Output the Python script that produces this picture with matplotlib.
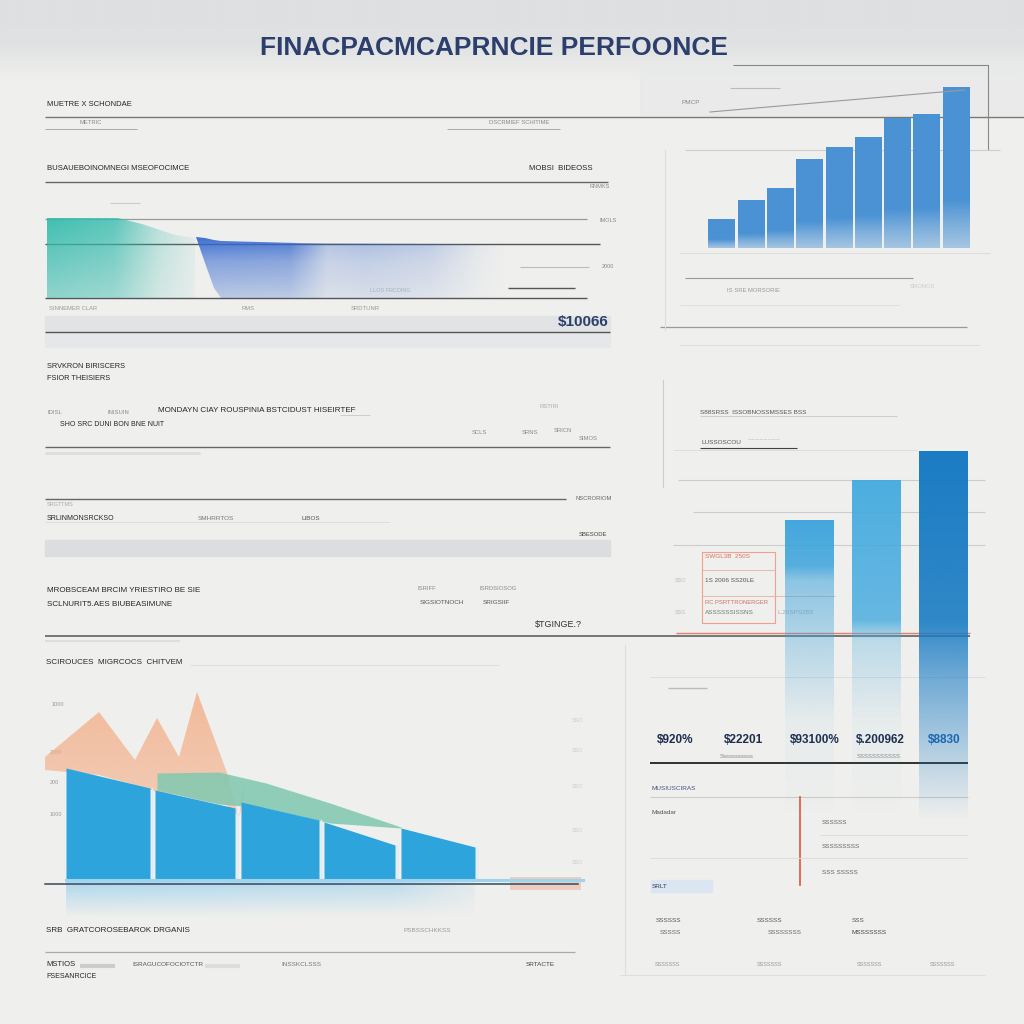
import numpy as np
import matplotlib
matplotlib.use('Agg')
import matplotlib.pyplot as plt
from matplotlib.colors import to_rgb

plt.rcParams['font.family'] = ['Liberation Sans Narrow', 'Liberation Sans', 'DejaVu Sans']

# ---- values ----
# top right: nine rising bars
growth_vals = [29, 48, 60, 89, 101, 111, 130, 134, 161]

# top left area panel (teal shoulder + blue wedge)
teal_x = [0, 71, 95, 128, 148]
teal_top = [80, 80, 74, 63, 60]
wedge_x = [149, 158, 167, 174, 251, 389, 461]
wedge_top = [61, 60, 58, 57, 55, 54, 53]
wedge_low = [61, 35, 10, 0, 0, 0, 0]

# right middle: three tall fading bars
tall_vals = [300, 340, 369]
tall_colors = ['#3ba3dc', '#43aadf', '#1a7cc4']
value_row = ['$920%', '$22201', '$93100%', '$.200962', '$8830']

# bottom left: stepped blue flow, green layer and orange peaks
flow_segments = [
    ([23, 107], [112, 92]),
    ([112, 192], [90, 72]),
    ([198, 276], [78, 60]),
    ([281, 352], [58, 35]),
    ([358, 432], [52, 33]),
]
green_x = [114, 176, 223, 287, 358]
green_top = [107, 108, 97, 77, 53]
green_low = [90, 76, 72, 57, 52]
orange_x = [2, 56, 92, 114, 136, 154, 183, 196, 201]
orange_top = [123, 168, 120, 162, 123, 188, 110, 63, 97]
orange_low = [110, 105, 95, 88, 85, 80, 75, 63, 80]

NAVY = '#2c3f6c'
INK = '#262626'


def px_axes(x0, y0, x1, y1):
    a = fig.add_axes([x0 / 1024, 1 - y1 / 1024, (x1 - x0) / 1024, (y1 - y0) / 1024])
    a.set_axis_off()
    a.patch.set_alpha(0)
    return a


def shade(ax, clip, extent, color, xstops, ystops, z=2, transform=None):
    # gradient image clipped to a patch / path
    nx, ny = 200, 200
    ax_ = np.interp(np.linspace(0, 1, nx), xstops[0], xstops[1])
    ay_ = np.interp(np.linspace(0, 1, ny), ystops[0], ystops[1])
    img = np.zeros((ny, nx, 4))
    img[..., :3] = to_rgb(color)
    img[..., 3] = np.outer(ay_, ax_)
    im = ax.imshow(img, extent=extent, origin='lower', aspect='auto',
                   interpolation='bilinear', zorder=z)
    if transform is None:
        im.set_clip_path(clip)
    else:
        im.set_clip_path(clip, transform=transform)
    return im


fig = plt.figure(figsize=(10.24, 10.24), dpi=100)
fig.patch.set_facecolor('#efefed')

bg = fig.add_axes([0, 0, 1, 1])
bg.set_xlim(0, 1024)
bg.set_ylim(1024, 0)
bg.set_axis_off()

# soft grey top band
band = np.zeros((100, 2, 4))
band[..., :3] = to_rgb('#dfe0e2')
band[..., 3] = np.interp(np.linspace(0, 1, 100), [0, 0.55, 1], [1, 0.9, 0])[:, None]
bg.imshow(band, extent=[0, 1024, 80, 0], aspect='auto', zorder=0, interpolation='bilinear')
bg.axhspan(62, 115, xmin=640 / 1024, color='#e8e9ea', alpha=0.7, zorder=0)
bg.set_xlim(0, 1024)
bg.set_ylim(1024, 0)

bg.text(494, 48, 'FINACPACMCAPRNCIE PERFOONCE', ha='center', va='center',
        fontsize=19, fontweight='heavy', color=NAVY, family=['Liberation Sans', 'DejaVu Sans'])


def t(x, y, s, size=5.5, color=INK, weight='normal', ha='left', alpha=1.0):
    bg.text(x, y, s, fontsize=size, color=color, fontweight=weight, ha=ha,
            va='center', alpha=alpha)


def h(y, x0, x1, color='#6a6a6a', lw=0.9, alpha=1.0):
    bg.plot([x0, x1], [y, y], color=color, lw=lw, alpha=alpha, solid_capstyle='butt')


# ---- left column texts & rules ----
t(47, 104, 'MUETRE X SCHONDAE', 5.5)
h(117, 45, 1024, '#777777', 1.0)
t(80, 123, 'METRIC', 4.2, '#888888')
h(129, 45, 137, '#aaaaaa', 0.7)
t(489, 123, 'DSCRMIEF SCHITIME', 4.2, '#888888')
h(129, 447, 560, '#aaaaaa', 0.7)

t(47, 169, 'BUSAUEBOINOMNEGI MSEOFOCIMCE', 5.6)
t(529, 169, 'MOBSI  BIDEOSS', 5.6)
h(182, 45, 608, '#666666', 1.0)
t(589, 187, 'RNMKS', 4, '#888888')
h(203, 110, 140, '#cccccc', 0.8)
h(219, 45, 587, '#999999', 0.9)
t(600, 221, 'IMOLS', 4, '#888888')
h(244, 45, 600, '#555555', 1.0)
t(602, 267, '2000', 4, '#888888')
h(267, 520, 589, '#bbbbbb', 0.8)
h(288, 508, 575, '#555555', 1.0)
t(370, 291, 'LLOS FRCDRIG', 4, '#bbbbbb')
h(298, 45, 587, '#555555', 1.0)
t(49, 309, 'SINNEMER CLAR', 4.2, '#999999')
t(242, 309, 'RMS', 4.2, '#999999')
t(351, 309, 'SRDTUNR', 4.2, '#999999')
bg.axhspan(316, 331, xmin=45 / 1024, xmax=610 / 1024, color='#e2e3e5', zorder=0)
bg.axhspan(333, 347, xmin=45 / 1024, xmax=610 / 1024, color='#e6e7e8', zorder=0)
h(332, 45, 610, '#555555', 1.0)
t(609, 322, '$10066', 11, NAVY, 'bold', ha='right')

t(47, 367, 'SRVKRON BIRISCERS', 5.3)
t(47, 379, 'FSIOR THEISIERS', 5.3)
t(47, 412, 'IDISL', 4.2, '#888888')
t(108, 412, 'INISUIN', 4.2, '#888888')
t(158, 410, 'MONDAYN CIAY ROUSPINIA BSTCIDUST HISEIRTEF', 5.8)
h(415, 340, 370, '#cccccc', 0.7)
t(60, 425, 'SHO SRC DUNI BON BNE NUIT', 5)
t(539, 407, 'RSTIRI', 4.2, '#aaaaaa')
t(472, 432, 'SCLS', 4.2, '#888888')
t(522, 433, 'SRNS', 4.2, '#888888')
t(554, 431, 'SRICN', 4.2, '#888888')
t(579, 438, 'SIMOS', 4.2, '#888888')
h(447, 45, 610, '#666666', 1.0)
h(453, 45, 200, '#dddddd', 2.0)
h(499, 45, 566, '#666666', 1.0)
t(575, 498, 'NSCRORIOM', 4.2, '#666666')
t(47, 504, 'SRGTTMS', 4, '#aaaaaa')
t(47, 518, 'SRLINMONSRCKSO', 5)
t(198, 519, 'SMHRRTOS', 4.6, '#777777')
t(302, 518, 'LIBOS', 4.6, '#555555')
h(522, 45, 390, '#dddddd', 0.7)
t(579, 534, 'SBESODE', 4.2, '#444444')
bg.axhspan(540, 556, xmin=45 / 1024, xmax=610 / 1024, color='#dcdddf', zorder=0)

t(47, 591, 'MROBSCEAM BRCIM YRIESTIRO BE SIE', 5.8)
t(47, 604, 'SCLNURIT5.AES BIUBEASIMUNE', 5.8)
t(418, 588, 'ISRIFF', 4.2, '#888888')
t(480, 589, 'ISRDSIOSOG', 4.2, '#888888')
t(420, 602, 'SIGSIOTNOCH', 4.6, '#555555')
t(483, 602, 'SRIGSIIF', 4.6, '#555555')
t(535, 624, '$TGINGE.?', 6.5, '#333333')
h(636, 45, 970, '#555555', 1.1)
h(641, 45, 180, '#dddddd', 1.5)

t(46, 662, 'SCIROUCES  MIGRCOCS  CHITVEM', 5.8)
h(665, 190, 499, '#dddddd', 0.7)
t(52, 705, '1000', 4, '#999999')
t(50, 752, '2000', 4, '#999999')
t(50, 783, '200', 4, '#999999')
t(50, 815, '1000', 4, '#999999')
for yy in [720, 750, 787, 830, 863]:
    t(572, yy, 'SSO', 4, '#cccccc')
t(46, 930, 'SRB  GRATCOROSEBAROK DRGANIS', 5.8)
t(404, 931, 'PSBSSCHKKSS', 4.6, '#999999')
h(952, 45, 575, '#aaaaaa', 0.9)
t(46, 964, 'MSTIOS', 5.5)
t(46, 977, 'FSESANRCICE', 5)
t(132, 964, 'ISRAGUCOFOCIOTCTR', 4.6, '#555555')
t(281, 964, 'INSSKCLSSS', 4.6, '#777777')
t(526, 964, 'SRTACTE', 4.6, '#444444')
h(966, 80, 115, '#cccccc', 3)
h(966, 205, 240, '#dddddd', 3)

# ---- right column ----
bg.plot([988, 988], [65, 150], color='#888888', lw=0.8)
h(65, 733, 988, '#888888', 0.8)
h(88, 730, 780, '#bbbbbb', 0.8)
t(682, 102, 'PMCP', 4.6, '#888888')
h(150, 685, 1000, '#cccccc', 0.8)
h(253, 680, 990, '#dddddd', 0.8)
h(278, 685, 913, '#999999', 0.8)
t(727, 290, 'IS SRE MORSORIE', 4.2, '#999999')
t(910, 287, 'SRONOS', 4.2, '#cccccc')
h(305, 680, 900, '#e0e0e0', 0.8)
h(327, 660, 967, '#999999', 0.9)
h(345, 680, 980, '#dddddd', 0.7)

t(700, 412, 'S88SRSS  ISSOBNOSSMSSES BSS', 4.6, '#555555')
h(416, 700, 897, '#cccccc', 0.7)
t(702, 443, 'LUSSOSCOU', 4.6, '#555555')
t(748, 441, '~~~~~~~~', 5, '#7aa4c8', alpha=0.6)
h(448, 700, 797, '#444444', 0.8)
h(450, 673, 917, '#dddddd', 0.7)
h(480, 678, 985, '#cccccc', 0.8)
h(512, 693, 985, '#cccccc', 0.8)
h(545, 673, 985, '#cccccc', 0.8)
bg.plot([663, 663], [380, 487], color='#cccccc', lw=0.8)
bg.plot([702, 775, 775, 702, 702], [552, 552, 623, 623, 552], color='#f0a090', lw=0.8)
h(570, 702, 775, '#e8b0a0', 0.6)
h(596, 702, 835, '#e8b0a0', 0.6)
t(705, 557, 'SWGL3B  250S', 4.6, '#e0705a')
t(705, 580, '1S 2006 SS20LE', 4.6, '#555555')
t(705, 602, 'RC PSRTTRONERGER', 4.2, '#d07060')
t(705, 613, 'ASSSSSSISSNS', 4.6, '#777777')
t(777, 612, 'L.20SPS28S', 4.6, '#aaaaaa')
t(675, 580, 'SSO', 4, '#bbbbbb')
t(675, 612, 'SSG', 4, '#bbbbbb')
h(633, 676, 970, '#e08070', 1.0)
h(677, 650, 985, '#dddddd', 0.7)
h(688, 668, 707, '#bbbbbb', 1.0)

for xx, s in zip([657, 724, 790, 856, 928], value_row):
    t(xx, 740, s, 8.5, '#1f2d4d' if s != value_row[-1] else '#1a5ca8', 'bold')
t(720, 757, 'Sssssssssss', 4.2, '#888888')
t(857, 757, 'SSSSSSSSSSS', 4.2, '#888888')
h(763, 650, 968, '#222222', 1.3)
t(652, 788, 'MUSIUSCIRAS', 4.6, '#445577')
h(797, 650, 968, '#cccccc', 0.8)
t(652, 812, 'Madadar', 4.6, '#555555')
bg.plot([800, 800], [797, 885], color='#e36b55', lw=1.4)
t(822, 823, 'SSSSSS', 4.6, '#666666')
h(835, 820, 968, '#dddddd', 0.7)
t(822, 847, 'SSSSSSSSS', 4.6, '#666666')
h(858, 650, 968, '#dddddd', 0.7)
t(822, 872, 'SSS SSSSS', 4.6, '#666666')
bg.axhspan(880, 892, xmin=651 / 1024, xmax=712 / 1024, color='#dbe6f2', zorder=0)
t(652, 886, 'SRLT', 4.6, '#333a55')
t(656, 920, 'SSSSSS', 4.6, '#555555')
t(757, 920, 'SSSSSS', 4.6, '#555555')
t(852, 920, 'SSS', 4.6, '#555555')
t(660, 932, 'SSSSS', 4.6, '#666666')
t(768, 932, 'SSSSSSSS', 4.6, '#666666')
t(852, 932, 'MSSSSSSS', 4.6, '#444444')
for xx in [655, 757, 857, 930]:
    t(xx, 965, 'SSSSSSS', 4, '#999999')
h(975, 620, 985, '#dddddd', 0.8)
bg.plot([625, 625], [645, 975], color='#dddddd', lw=0.8)
bg.plot([665, 665], [150, 330], color='#dddddd', lw=0.8)

# ---- top left area chart ----
a1 = px_axes(47, 200, 600, 298)
tp = a1.fill_between(teal_x, 0, teal_top, facecolor='none', edgecolor='none')
shade(a1, tp.get_paths()[0], [0, 148, 0, 80], '#37bcae',
      ([0, 0.45, 0.75, 1], [0.95, 0.8, 0.3, 0.08]), ([0, 1], [0.55, 1]),
      transform=a1.transData)
wp = a1.fill_between(wedge_x, wedge_low, wedge_top, facecolor='none', edgecolor='none')
shade(a1, wp.get_paths()[0], [149, 461, 0, 61], '#3669cf',
      ([0, 0.3, 0.42, 0.55, 0.75, 0.9, 1], [0.95, 0.9, 0.35, 0.4, 0.3, 0.08, 0]),
      ([0, 0.6, 1], [0.3, 0.6, 1]), transform=a1.transData)
a1.set_xlim(0, 553)
a1.set_ylim(0, 98)

# ---- top right growth bars ----
a2 = px_axes(707, 78, 970.6, 248)
bars = a2.bar(range(len(growth_vals)), growth_vals, width=0.9, color='none')
for b in bars:
    shade(a2, b, [b.get_x(), b.get_x() + b.get_width(), 0, b.get_height()], '#4a92d4',
          ([0, 1], [1, 1]), ([0, 0.15, 0.3, 1], [0.45, 0.7, 1, 1]))
a2.plot([-0.4, 8.3], [136, 158], color='#999999', lw=0.8)
a2.set_xlim(-0.5, 8.5)
a2.set_ylim(0, 170)

# ---- right middle tall fading bars ----
a3 = px_axes(775.5, 451, 976.5, 820)
tbars = a3.bar(range(3), tall_vals, width=0.73, color='none')
fades = [([0, 0.333, 0.8, 0.85, 1], [0, 0.05, 0.55, 0.85, 0.95]),
         ([0, 0.294, 0.53, 0.588, 1], [0, 0.05, 0.3, 0.8, 0.95]),
         ([0, 0.163, 0.387, 0.54, 1], [0, 0.25, 0.6, 0.9, 1])]
for b, c, f in zip(tbars, tall_colors, fades):
    shade(a3, b, [b.get_x(), b.get_x() + b.get_width(), 0, b.get_height()], c,
          ([0, 1], [1, 1]), f)
a3.set_xlim(-0.5, 2.5)
a3.set_ylim(0, 369)

# ---- bottom left flow chart ----
a4 = px_axes(43, 680, 585, 920)
op = a4.fill_between(orange_x, orange_low, orange_top, facecolor='none', edgecolor='none')
shade(a4, op.get_paths()[0], [0, 210, 60, 190], '#f4ac84',
      ([0, 1], [1, 1]), ([0, 1], [0.5, 0.8]), z=1, transform=a4.transData)
a4.fill_between(green_x, green_low, green_top, color='#80c8b0', alpha=0.85,
                lw=0, zorder=2)
for xs, hs in flow_segments:
    a4.fill_between(xs, 0, hs, color='#2ea4dc', lw=0, zorder=3)
    a4.plot([xs[1] + 1.5, xs[1] + 1.5], [0, hs[1]], color='#d8eef8', lw=1, zorder=3)
rp = a4.fill_between([23, 432], -37, 0, facecolor='none', edgecolor='none')
shade(a4, rp.get_paths()[0], [23, 432, -37, 0], '#7cc6ec',
      ([0, 0.8, 1], [1, 0.8, 0.2]), ([0, 1], [0.0, 0.6]), z=1, transform=a4.transData)
a4.plot([23, 540], [0, 0], color='#9fd4f0', lw=2.2, zorder=4)
a4.plot([2, 535], [-4, -4], color='#34495e', lw=1.1, zorder=4)
a4.fill_between([467, 538], -10, 3, color='#e9a58a', alpha=0.45, lw=0, zorder=3)
a4.set_xlim(0, 542)
a4.set_ylim(-40, 200)

fig.savefig('out.png', dpi=100, facecolor=fig.get_facecolor())
